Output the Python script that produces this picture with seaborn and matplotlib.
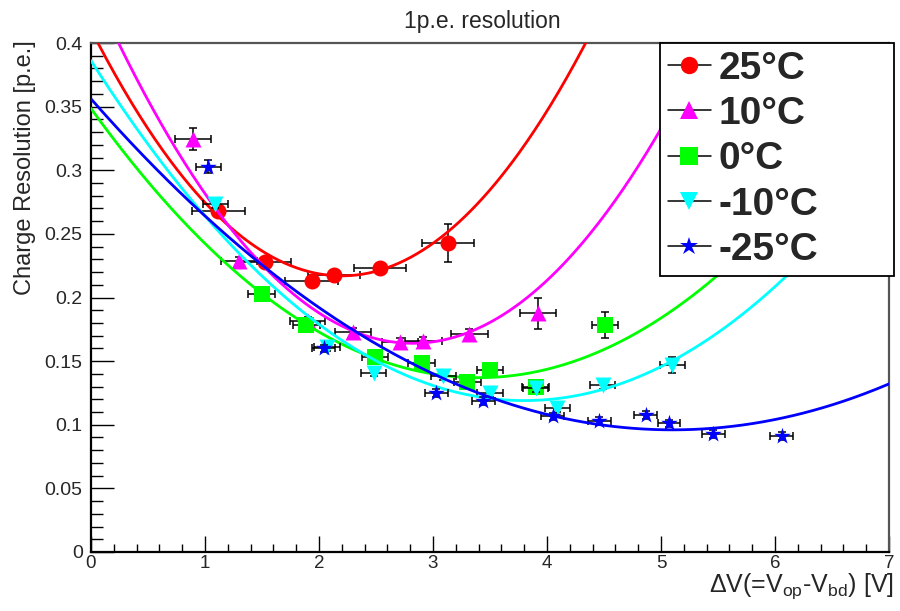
import numpy as np
import pandas as pd
import matplotlib
matplotlib.use("Agg")
import matplotlib.pyplot as plt
from matplotlib.lines import Line2D
from matplotlib.ticker import MultipleLocator, FuncFormatter
import seaborn as sns

# ---- data -----------------------------------------------------------------
temperatures = ["25°C", "10°C", "0°C", "-10°C", "-25°C"]
colors = ["#ff0000", "#ff00ff", "#00ff00", "#00ffff", "#0000ff"]
markers = ["o", "^", "s", "v", "*"]
marker_pts = [11.5, 11.5, 12.0, 11.5, 12.5]

# overvoltage dV [V] and charge resolution [p.e.] for each temperature
dv_25 = [1.117, 1.526, 1.936, 2.13, 2.535, 3.134]
res_25 = [0.268, 0.228, 0.213, 0.218, 0.223, 0.243]
dv_err_25 = [0.23, 0.23, 0.23, 0.23, 0.23, 0.23]
res_err_25 = [0.004, 0.003, 0.003, 0.003, 0.004, 0.015]

dv_10 = [0.897, 1.30, 1.90, 2.30, 2.71, 2.915, 3.32, 3.92]
res_10 = [0.3246, 0.229, 0.1815, 0.173, 0.165, 0.1658, 0.1713, 0.1876]
dv_err_10 = [0.16, 0.16, 0.155, 0.16, 0.16, 0.16, 0.16, 0.16]
res_err_10 = [0.0085, 0.003, 0.003, 0.003, 0.003, 0.003, 0.004, 0.012]

dv_0 = [1.497, 1.89, 2.49, 2.90, 3.30, 3.50, 3.90, 4.51]
res_0 = [0.203, 0.1784, 0.153, 0.1488, 0.1338, 0.143, 0.130, 0.1784]
dv_err_0 = [0.117, 0.117, 0.117, 0.117, 0.117, 0.117, 0.117, 0.117]
res_err_0 = [0.004, 0.003, 0.004, 0.004, 0.004, 0.004, 0.004, 0.010]

dv_m10 = [1.09, 2.07, 2.48, 3.09, 3.50, 3.90, 4.09, 4.49, 5.10]
res_m10 = [0.2735, 0.161, 0.141, 0.1383, 0.1247, 0.129, 0.1134, 0.1312, 0.147]
dv_err_m10 = [0.11, 0.11, 0.11, 0.11, 0.11, 0.11, 0.11, 0.11, 0.11]
res_err_m10 = [0.003, 0.003, 0.003, 0.003, 0.003, 0.003, 0.003, 0.003, 0.0065]

dv_m25 = [1.03, 2.04, 3.03, 3.44, 4.05, 4.46, 4.866, 5.07, 5.46, 6.06]
res_m25 = [0.3028, 0.160, 0.1252, 0.1187, 0.1066, 0.1028, 0.1077, 0.1011, 0.0926, 0.0913]
dv_err_m25 = [0.107, 0.1, 0.1, 0.1, 0.1, 0.1, 0.1, 0.1, 0.1, 0.1]
res_err_m25 = [0.005, 0.003, 0.003, 0.003, 0.003, 0.003, 0.003, 0.003, 0.003, 0.003]

# second-order polynomial fits, written as a*(x - x_min)^2 + y_min
fit_curvature = [0.040, 0.0355, 0.0183, 0.0185, 0.010]
fit_x_min = [2.20, 2.82, 3.40, 3.80, 5.10]
fit_y_min = [0.217, 0.164, 0.137, 0.119, 0.096]

series = [
    (dv_25, res_25, dv_err_25, res_err_25),
    (dv_10, res_10, dv_err_10, res_err_10),
    (dv_0, res_0, dv_err_0, res_err_0),
    (dv_m10, res_m10, dv_err_m10, res_err_m10),
    (dv_m25, res_m25, dv_err_m25, res_err_m25),
]

# ---- style ----------------------------------------------------------------
sns.set_theme(style="ticks")
plt.rcParams["font.family"] = ["Liberation Sans", "DejaVu Sans"]
plt.rcParams["mathtext.fontset"] = "custom"
plt.rcParams["mathtext.rm"] = "Liberation Sans"
plt.rcParams["mathtext.it"] = "Liberation Sans:italic"
plt.rcParams["mathtext.bf"] = "Liberation Sans:bold"

W, H = 900, 611
fig = plt.figure(figsize=(W / 100, H / 100), dpi=100)
fig.patch.set_facecolor("white")
ax = fig.add_axes([91 / W, 1 - 552 / H, 798 / W, 509 / H])

x_grid = np.linspace(0.0, 7.0, 400)

for i, (dv, res, dv_err, res_err) in enumerate(series):
    z = 2 + 3 * i
    ax.errorbar(dv, res, xerr=dv_err, yerr=res_err, fmt="none",
                ecolor="black", elinewidth=1.1, capsize=2.6, capthick=1.1,
                zorder=z)
    sns.scatterplot(x=dv, y=res, marker=markers[i], s=marker_pts[i] ** 2,
                    color=colors[i], linewidth=0, ax=ax, zorder=z + 1,
                    legend=False)
    curve = fit_curvature[i] * (x_grid - fit_x_min[i]) ** 2 + fit_y_min[i]
    fit_df = pd.DataFrame({"dv": x_grid, "res": curve})
    sns.lineplot(data=fit_df, x="dv", y="res", color=colors[i], lw=2.0,
                 ax=ax, zorder=z + 2, legend=False, estimator=None)

ax.set_xlim(0, 7)
ax.set_ylim(0, 0.4)
ax.xaxis.set_major_locator(MultipleLocator(1))
ax.xaxis.set_minor_locator(MultipleLocator(0.2))
ax.yaxis.set_major_locator(MultipleLocator(0.05))
ax.yaxis.set_minor_locator(MultipleLocator(0.01))
ax.yaxis.set_major_formatter(FuncFormatter(lambda v, _: f"{v:g}"))
ax.xaxis.set_major_formatter(FuncFormatter(lambda v, _: f"{v:g}"))
ax.set_xlabel("")
ax.set_ylabel("")

ax.tick_params(axis="x", which="major", direction="in", length=11.5,
               width=1.0, labelsize=13.5, pad=2, color="black")
ax.tick_params(axis="x", which="minor", direction="in", length=6,
               width=1.0, color="black")
ax.tick_params(axis="y", which="major", direction="in", length=16.5,
               width=1.0, labelsize=14, pad=6, color="black")
ax.tick_params(axis="y", which="minor", direction="in", length=8.5,
               width=1.0, color="black")
ax.tick_params(top=False, right=False, which="both")

for side in ["left", "bottom"]:
    ax.spines[side].set_linewidth(1.6)
    ax.spines[side].set_color("black")
for side in ["top", "right"]:
    ax.spines[side].set_visible(True)
    ax.spines[side].set_linewidth(1.6)
    ax.spines[side].set_color("#555555")

# titles
fig.text(482 / W, 1 - 28 / H, "1p.e. resolution", ha="center",
         va="baseline", fontsize=16.5)
fig.text(894 / W, 1 - 592 / H,
         r"$\Delta$V(=V$_{\mathrm{op}}$-V$_{\mathrm{bd}}$) [V]",
         ha="right", va="baseline", fontsize=18)
fig.text(25 / W, 1 - 40 / H, "Charge Resolution [p.e.]", rotation=90,
         ha="center", va="top", fontsize=17)

# legend
handles = [
    Line2D([0], [0], color="black", lw=1.1, marker=markers[i],
           markersize=marker_pts[i] + 1, markerfacecolor=colors[i],
           markeredgecolor=colors[i], markeredgewidth=0)
    for i in range(len(temperatures))
]
leg = fig.legend(handles, temperatures, loc="upper left",
                 bbox_to_anchor=(660 / W, 1 - 275 / H, 234 / W, 232 / H),
                 mode="expand", frameon=True, fancybox=False,
                 framealpha=1.0, edgecolor="black", facecolor="white",
                 prop={"family": "Liberation Sans", "weight": "bold",
                       "size": 28},
                 handlelength=1.1, handletextpad=0.2, borderpad=0.2,
                 labelspacing=0.24, borderaxespad=0.0)
leg.get_frame().set_linewidth(1.3)

fig.savefig("out.png", dpi=100, facecolor="white")
